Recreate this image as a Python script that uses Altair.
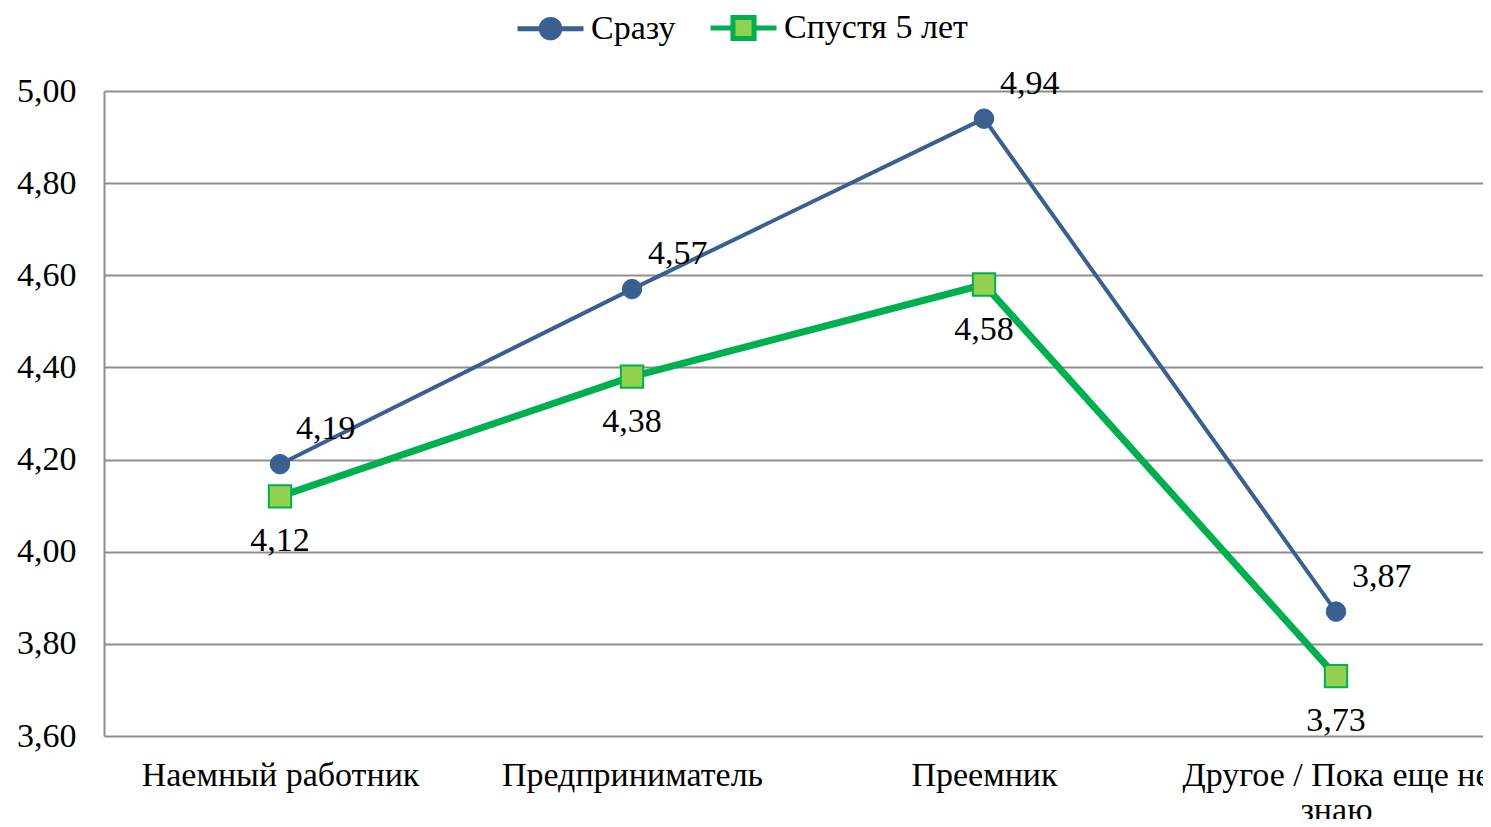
import json
import altair as alt
import pandas as pd

categories = ["Наемный работник", "Предприниматель", "Преемник", "Другое / Пока еще не знаю"]
category_lines = [["Наемный работник"], ["Предприниматель"], ["Преемник"], ["Другое / Пока еще не", "знаю"]]
series_names = ["Сразу", "Спустя 5 лет"]
values_now = [4.19, 4.57, 4.94, 3.87]
values_5y = [4.12, 4.38, 4.58, 3.73]
y_ticks = [3.6, 3.8, 4.0, 4.2, 4.4, 4.6, 4.8, 5.0]

BLUE = "#3A5F91"
GREEN = "#00B050"
LGREEN = "#92D050"
GRID = "#8E8E8E"
FONT = "Liberation Serif"
FS = 34

rows = []
for i, c in enumerate(categories):
    rows.append({"idx": i, "cat": c, "series": series_names[0], "value": values_now[i]})
    rows.append({"idx": i, "cat": c, "series": series_names[1], "value": values_5y[i]})
df = pd.DataFrame(rows)

base = alt.Chart(df).transform_calculate(
    label="replace(format(datum.value, '.2f'), '.', ',')"
)

labels_js = json.dumps(category_lines, ensure_ascii=False)

x_enc = alt.X(
    "idx:Q",
    scale=alt.Scale(domain=[-0.5, 3.4176], nice=False, zero=False),
    axis=alt.Axis(
        values=[0, 1, 2, 3], labelExpr=f"{labels_js}[datum.value]", title=None,
        grid=False, domain=False, ticks=False, labelPadding=22, labelLimit=0,
        labelFont=FONT, labelFontSize=FS, labelColor="#000000",
        labelOverlap=False, labelFlush=False, labelLineHeight=35,
    ),
)
y_enc = alt.Y(
    "value:Q",
    scale=alt.Scale(domain=[3.6, 5.0], nice=False, zero=False),
    axis=alt.Axis(
        values=y_ticks, labelExpr="replace(format(datum.value, '.2f'), '.', ',')",
        title=None, grid=True, gridColor=GRID, gridWidth=2, domain=True,
        domainColor=GRID, domainWidth=2, ticks=False, labelPadding=28, labelLimit=0,
        labelFont=FONT, labelFontSize=FS, labelColor="#000000",
    ),
)

s0 = base.transform_filter(alt.datum.series == series_names[0])
s1 = base.transform_filter(alt.datum.series == series_names[1])

line0 = s0.mark_line(color=BLUE, strokeWidth=4).encode(x=x_enc, y=y_enc)
line1 = s1.mark_line(color=GREEN, strokeWidth=7).encode(x=x_enc, y=y_enc)
pt0 = s0.mark_point(shape="circle", filled=True, fill=BLUE, stroke=BLUE, strokeWidth=1, size=380, opacity=1).encode(x=x_enc, y=y_enc)
pt1 = s1.mark_point(shape="square", filled=True, fill=LGREEN, stroke=GREEN, strokeWidth=2, size=500, opacity=1).encode(x=x_enc, y=y_enc)
txt0 = s0.mark_text(align="left", baseline="middle", dx=16, dy=-35, font=FONT, fontSize=FS, color="#000000").encode(x=x_enc, y=y_enc, text="label:N")
txt1 = s1.mark_text(align="center", baseline="middle", dx=0, dy=45, font=FONT, fontSize=FS, color="#000000").encode(x=x_enc, y=y_enc, text="label:N")

path_circle = "M-1.5,0L-0.45,0M0.45,0L1.5,0M-0.42,0A0.42,0.42,0,1,1,0.42,0A0.42,0.42,0,1,1,-0.42,0Z"
path_square = "M-1.5,0L-0.5,0M0.5,0L1.5,0M-0.48,-0.48L0.48,-0.48L0.48,0.48L-0.48,0.48Z"

leg = alt.Legend(
    title=None, orient="none", legendX=422, legendY=-88, direction="horizontal",
    labelFont=FONT, labelFontSize=FS, labelColor="#000000", symbolSize=1936, labelLimit=0,
    symbolStrokeWidth=5, labelOffset=16, columnPadding=24, symbolOpacity=1,
)
legend_layer = base.transform_filter("datum.idx < 0").mark_point(filled=True).encode(
    x=x_enc, y=y_enc,
    fill=alt.Fill("series:N", scale=alt.Scale(domain=series_names, range=[BLUE, LGREEN]), legend=leg),
    stroke=alt.Stroke("series:N", scale=alt.Scale(domain=series_names, range=[BLUE, GREEN]), legend=leg),
    shape=alt.Shape("series:N", scale=alt.Scale(domain=series_names, range=[path_circle, path_square]), legend=leg),
)

chart = alt.layer(line0, line1, pt0, pt1, txt0, txt1, legend_layer).properties(
    width=1379, height=645,
    autosize=alt.AutoSizeParams(type="none"),
    padding={"left": 96, "top": 83, "right": 0, "bottom": 83},
    background="#ffffff",
).configure_view(stroke=None)

chart.save("out.html", embed_options={"renderer": "svg", "actions": False})
